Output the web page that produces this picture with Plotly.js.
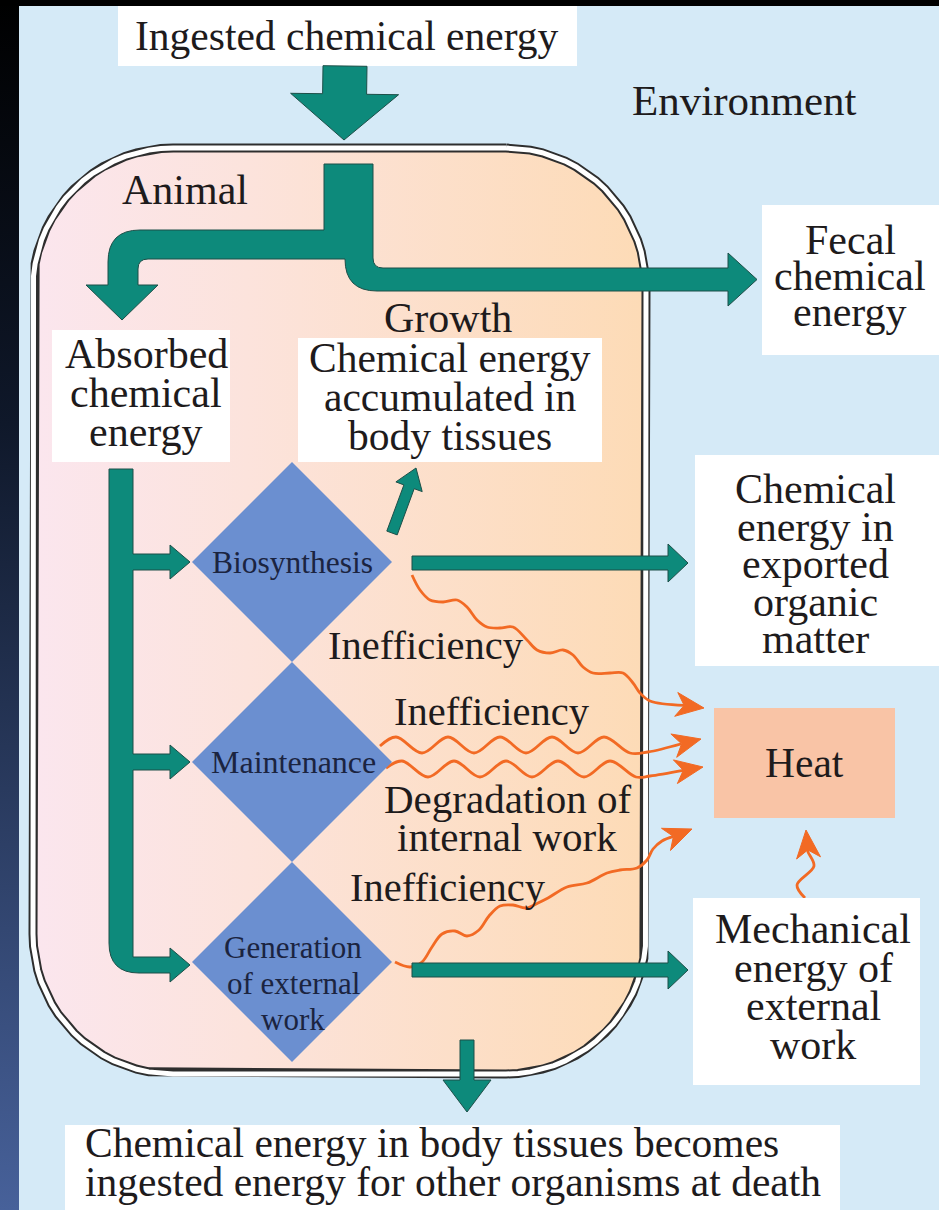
<!DOCTYPE html>
<html><head><meta charset="utf-8">
<script src="https://cdn.plot.ly/plotly-3.0.1.min.js"></script>
<style>html,body{margin:0;padding:0;background:#d5eaf7;overflow:hidden}#chart{width:939px;height:1210px}</style>
</head><body><div id="chart"></div>
<script>
// ---------- text content ----------
const topLabel = ['Ingested chemical energy'];
const environmentLabel = ['Environment'];
const animalLabel = ['Animal'];
const absorbedLines = ['Absorbed', 'chemical', 'energy'];
const growthTitle = ['Growth'];
const growthLines = ['Chemical energy', 'accumulated in', 'body tissues'];
const fecalLines = ['Fecal', 'chemical', 'energy'];
const exportedLines = ['Chemical', 'energy in', 'exported', 'organic', 'matter'];
const heatLabel = ['Heat'];
const mechanicalLines = ['Mechanical', 'energy of', 'external', 'work'];
const deathLines = ['Chemical energy in body tissues becomes', 'ingested energy for other organisms at death'];
const processLabels = [['Biosynthesis'], ['Maintenance'], ['Generation', 'of external', 'work']];
const lossLabels = [['Inefficiency'], ['Inefficiency'], ['Degradation of', 'internal work'], ['Inefficiency']];

// ---------- traced wavy heat paths ----------
const waveBiosynthesis = [[412,575],[420,590],[430,600],[443,602],[457,600],[467,607],[477,620],[487,627],[500,628],[513,627],[527,640],[537,650],[550,653],[563,650],[573,655],[583,667],[593,673],[610,673],[623,673],[633,683],[640,693],[650,701]];
const waveMaintUpper = [[380,746],[396,737],[422,753],[448,737],[474,753],[500,737],[526,753],[552,737],[578,753],[604,737],[630,753],[648,752]];
const waveMaintLower = [[386,768],[402,761],[428,777],[454,761],[480,777],[506,761],[532,777],[558,761],[584,777],[610,761],[636,777],[650,776]];
const waveGeneration = [[395,962],[410,967],[422,962],[432,947],[442,934],[455,931],[467,936],[479,930],[489,916],[500,906],[513,905],[526,908],[538,903],[548,898],[567,887],[587,883],[607,873],[620,870],[637,868],[647,860],[653,849],[662,841]];
const waveMechanical = [[805,898],[797,885],[814,866],[808,852]];
const waveTips = [[704,708],[701,739],[703,767],[692,829],[806,830]];

// ---------- style / geometry ----------
const FONT = 'Liberation Serif';
const TXT = '#1e1b1c';
const TEAL = '#0d8a7b', TEAL_EDGE = '#1d4f48';
const ORANGE = '#f26a24';
const W = 939, H = 1210;

const traces = [], shapes = [], annotations = [];

function addLines(lines, x, y0, dy, size, color, anchor) {
  lines.forEach((t, i) => annotations.push({
    text: t, x: x, y: y0 + i * dy, xref: 'x', yref: 'y', showarrow: false,
    xanchor: anchor || 'center', yanchor: 'middle', borderpad: 0,
    font: {family: FONT, size: size, color: color || TXT}
  }));
}
function rect(x0, y0, x1, y1, fill) {
  shapes.push({type: 'rect', x0, y0, x1, y1, fillcolor: fill, line: {width: 0}, layer: 'above'});
}
function pathShape(d, fill, edge, ew) {
  shapes.push({type: 'path', path: d, fillcolor: fill, line: {color: edge || fill, width: ew === undefined ? 1 : ew}, layer: 'above'});
}
function arrowPath(x0, y0, x1, y1, sh, hl, hh) {
  const dx = x1 - x0, dy = y1 - y0, L = Math.hypot(dx, dy);
  const ux = dx / L, uy = dy / L, nx = -uy, ny = ux;
  const bx = x1 - ux * hl, by = y1 - uy * hl;
  const p = [[x0 + nx * sh, y0 + ny * sh], [bx + nx * sh, by + ny * sh], [bx + nx * hh, by + ny * hh], [x1, y1],
             [bx - nx * hh, by - ny * hh], [bx - nx * sh, by - ny * sh], [x0 - nx * sh, y0 - ny * sh]];
  return 'M ' + p.map(q => q[0].toFixed(1) + ' ' + q[1].toFixed(1)).join(' L ') + ' Z';
}
function roundRectPts(b) {
  const xs = [], ys = [];
  const cs = [[b.x1 - b.r, b.y0 + b.r, -90], [b.x1 - b.r, b.y1 - b.r, 0], [b.x0 + b.r, b.y1 - b.r, 90], [b.x0 + b.r, b.y0 + b.r, 180]];
  for (const [cx, cy, a0] of cs) {
    for (let i = 0; i <= 18; i++) {
      const a = (a0 + 90 * i / 18) * Math.PI / 180;
      xs.push(cx + b.r * Math.cos(a)); ys.push(cy + b.r * Math.sin(a));
    }
  }
  xs.push(xs[0]); ys.push(ys[0]);
  return {xs, ys};
}

// ---------- background frame ----------
traces.push({type: 'scatter', x: [0, 19, 19, 0, 0], y: [0, 0, H, H, 0], mode: 'lines', fill: 'toself',
  line: {width: 0, color: 'rgba(0,0,0,0)'}, hoverinfo: 'skip',
  fillgradient: {type: 'vertical', start: 0, stop: H, colorscale: [[0, '#000000'], [0.35, '#0f182a'], [1, '#47619a']]}});
shapes.push({type: 'rect', x0: 0, x1: W, y0: 0, y1: 6, fillcolor: '#000', line: {width: 0}, layer: 'above'});

// ---------- animal body ----------
const animalBox = {x0: 33, y0: 148, x1: 646, y1: 1074, r: 140};
const rr = roundRectPts(animalBox);
traces.push({type: 'scatter', x: rr.xs, y: rr.ys, mode: 'lines', fill: 'toself', hoverinfo: 'skip',
  line: {width: 0, color: 'rgba(0,0,0,0)'},
  fillgradient: {type: 'horizontal', start: animalBox.x0, stop: animalBox.x1,
    colorscale: [[0, '#fbe6ee'], [0.35, '#fce3dc'], [1, '#fddbb6']]}});
traces.push({type: 'scatter', x: rr.xs, y: rr.ys, mode: 'lines', hoverinfo: 'skip', line: {width: 9, color: '#2e2e2e'}});
traces.push({type: 'scatter', x: rr.xs, y: rr.ys, mode: 'lines', hoverinfo: 'skip', line: {width: 5, color: '#ffffff'}});

// ---------- wavy heat-loss lines ----------
const waves = [waveBiosynthesis, waveMaintUpper, waveMaintLower, waveGeneration, waveMechanical];
waves.forEach((pts, k) => {
  const tip = waveTips[k];
  const last = pts[pts.length - 1];
  const dx = tip[0] - last[0], dy = tip[1] - last[1], L = Math.hypot(dx, dy);
  const ux = dx / L, uy = dy / L, nx = -uy, ny = ux;
  const len = 28, half = 12, notch = 8;
  const bx = tip[0] - ux * len, by = tip[1] - uy * len;
  const nxp = tip[0] - ux * (len - notch), nyp = tip[1] - uy * (len - notch);
  const xs = pts.map(p => p[0]).concat([nxp]);
  const ys = pts.map(p => p[1]).concat([nyp]);
  traces.push({type: 'scatter', x: xs, y: ys, mode: 'lines', hoverinfo: 'skip',
    line: {color: ORANGE, width: 2.8, shape: 'spline', smoothing: 1}});
  const d = `M ${tip[0]} ${tip[1]} L ${(bx + nx * half).toFixed(1)} ${(by + ny * half).toFixed(1)} L ${nxp.toFixed(1)} ${nyp.toFixed(1)} L ${(bx - nx * half).toFixed(1)} ${(by - ny * half).toFixed(1)} Z`;
  shapes.push({type: 'path', path: d, fillcolor: ORANGE, line: {color: ORANGE, width: 1}, layer: 'above'});
});

// ---------- white label boxes ----------
rect(118, 6, 577, 66, '#ffffff');          // ingested
rect(52, 330, 230, 462, '#ffffff');        // absorbed
rect(298, 338, 602, 462, '#ffffff');       // growth
rect(762, 205, W, 355, '#ffffff');         // fecal
rect(695, 455, W, 666, '#ffffff');         // exported
rect(714, 708, 895, 818, '#f9c4a6');       // heat
rect(693, 898, 920, 1085, '#ffffff');      // mechanical
rect(65, 1125, 840, H, '#ffffff');         // death

// ---------- teal arrows ----------
pathShape(arrowPath(345, 66, 344, 140, 22, 46, 54), TEAL, TEAL_EDGE, 1);
pathShape('M 324 164 L 373 164 L 373 258 Q 373 268 383 268 L 728 268 L 728 253 L 757 279.5 L 728 306 L 728 291 L 377 291 Q 345 291 345 259 L 148 259 Q 138 259 138 269 L 138 285 L 158 285 L 122 320 L 86 285 L 108 285 L 108 262 Q 108 230 140 230 L 324 230 Z', TEAL, TEAL_EDGE, 1);

const diamondCY = [562, 762, 962];
const diamondCX = 292, diamondHalf = 100;
const shaftL = 109, shaftR = 133, stubHalf = 8, headHalf = 17, tipX = 190, headBase = 170;
let d = `M ${shaftL} 469 L ${shaftR} 469`;
diamondCY.forEach((cy, i) => {
  const yb = cy + (i === 2 ? 3 : 0);
  d += ` L ${shaftR} ${yb - stubHalf} L ${headBase} ${yb - stubHalf} L ${headBase} ${yb - headHalf} L ${tipX} ${yb} L ${headBase} ${yb + headHalf} L ${headBase} ${yb + stubHalf}`;
  if (i < 2) d += ` L ${shaftR} ${yb + stubHalf}`;
  else d += ` L ${shaftL + 30} ${yb + stubHalf} Q ${shaftL} ${yb + stubHalf} ${shaftL} ${yb + stubHalf - 30}`;
});
d += ' Z';
pathShape(d, TEAL, TEAL_EDGE, 1);

pathShape(arrowPath(392, 533, 416, 468, 5.5, 20, 14), TEAL, TEAL_EDGE, 1);   // growth
pathShape(arrowPath(412, 563, 688, 563, 7, 20, 19), TEAL, TEAL_EDGE, 1);     // exported
pathShape(arrowPath(412, 970, 688, 970, 7, 20, 19), TEAL, TEAL_EDGE, 1);     // external work
pathShape(arrowPath(467, 1040, 467, 1112, 7, 32, 24), TEAL, TEAL_EDGE, 1);   // death

// ---------- process diamonds ----------
diamondCY.forEach(cy => {
  pathShape(`M ${diamondCX - diamondHalf} ${cy} L ${diamondCX} ${cy - diamondHalf} L ${diamondCX + diamondHalf} ${cy} L ${diamondCX} ${cy + diamondHalf} Z`, '#6b8fd0', '#6b8fd0', 0);
});

// ---------- text ----------
addLines(topLabel, 347, 36, 0, 41.5);
addLines(environmentLabel, 744, 100, 0, 43);
addLines(animalLabel, 185, 190, 0, 42);
addLines(absorbedLines, 146, 354, 39, 42);
addLines(growthTitle, 448, 318, 0, 42);
addLines(growthLines, 450, 358, 39, 41.5);
addLines(fecalLines, 850, 240, 36, 42);
addLines(exportedLines, 815, 489, 37.5, 42);
addLines(heatLabel, 804, 763, 0, 41.5);
addLines(mechanicalLines, 813, 929, 38.5, 42);
addLines(deathLines, 84, 1143, 39, 41.5, TXT, 'left');
const DTXT = '#1b2440';
addLines(processLabels[0], 292, 562, 0, 31.5, DTXT);
addLines(processLabels[1], 293, 762, 0, 32, DTXT);
addLines(processLabels[2], 293, 947, 36, 31, DTXT);
addLines(lossLabels[0], 426, 645, 0, 40.5);
addLines(lossLabels[1], 492, 711, 0, 40.5);
addLines(lossLabels[2], 507, 799, 38, 41);
addLines(lossLabels[3], 448, 887, 0, 40.5);

const layout = {
  width: W, height: H, margin: {l: 0, r: 0, t: 0, b: 0},
  paper_bgcolor: '#d5eaf7', plot_bgcolor: '#d5eaf7', showlegend: false,
  font: {family: FONT},
  xaxis: {range: [0, W], autorange: false, visible: false, fixedrange: true},
  yaxis: {range: [H, 0], autorange: false, visible: false, fixedrange: true},
  shapes: shapes, annotations: annotations
};
Plotly.newPlot('chart', traces, layout, {staticPlot: true, displayModeBar: false});
</script></body></html>
